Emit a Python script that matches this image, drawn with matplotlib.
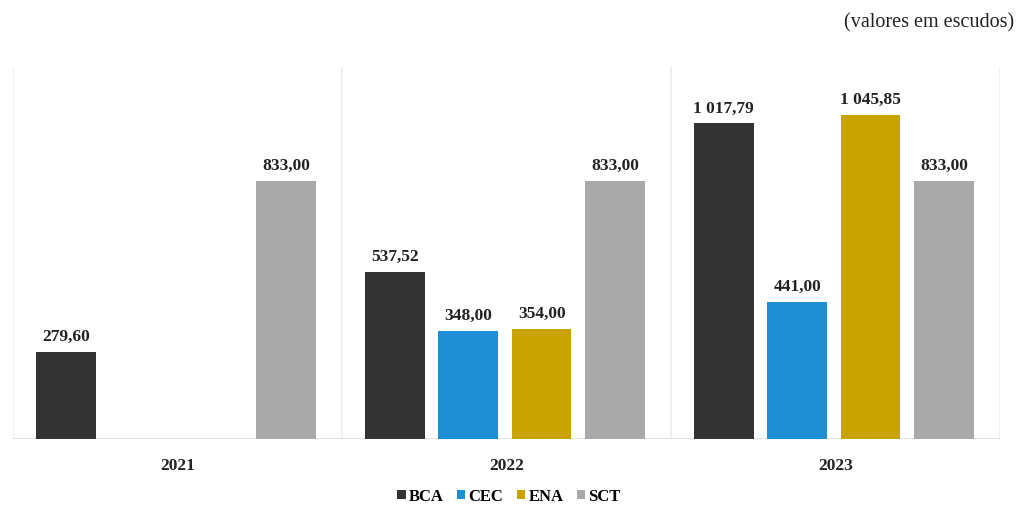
import numpy as np
import matplotlib.pyplot as plt

years = ["2021", "2022", "2023"]
series = ["BCA", "CEC", "ENA", "SCT"]
bca = [279.60, 537.52, 1017.79]
cec = [np.nan, 348.00, 441.00]
ena = [np.nan, 354.00, 1045.85]
sct = [833.00, 833.00, 833.00]
colors = ["#333333", "#1e8fd5", "#c9a302", "#a9a9a9"]


def fmt(v):
    # portuguese style: space for thousands, comma for decimals
    s = f"{v:,.2f}"
    return s.replace(",", " ").replace(".", ",")


def main():
    plt.rcParams["font.family"] = ["Liberation Serif", "DejaVu Serif"]

    dpi = 100
    fig = plt.figure(figsize=(1018 / dpi, 506 / dpi), dpi=dpi)
    ax = fig.add_axes([0.0128, 0.1304, 0.9696, 0.7352])

    x = np.arange(len(years))
    step = 0.223
    width = 0.181
    for i, (name, vals) in enumerate(zip(series, [bca, cec, ena, sct])):
        pos = x - 0.005 + (i - 1.5) * step
        ax.bar(pos, vals, width, color=colors[i], label=name, zorder=3)
        for px, v in zip(pos, vals):
            if np.isnan(v):
                continue
            ax.text(px, v + 26, fmt(v), ha="center", va="bottom",
                    fontsize=12.5, fontweight="bold", color="#222222")

    ax.set_xlim(-0.5, 2.5)
    ax.set_ylim(0, 1200)

    # light separators between the year groups
    for b in [-0.5, 0.5, 1.5, 2.5]:
        ax.axvline(b, color="#ececec", lw=1.2, zorder=1)
    ax.axhline(0, color="#e0e0e0", lw=1.2, zorder=2)

    for s in ax.spines.values():
        s.set_visible(False)
    ax.set_yticks([])
    ax.set_xticks(x)
    ax.set_xticklabels(years, fontsize=12.5, fontweight="bold", color="#222222")
    ax.tick_params(axis="x", length=0, pad=13)

    fig.text(0.996, 0.955, "(valores em escudos)", ha="right", va="center",
             fontsize=14.5, color="#222222")

    fig.legend(loc="center", bbox_to_anchor=(0.5, 0.017), ncol=4, frameon=False,
               handlelength=0.5, handleheight=0.5, handletextpad=0.2,
               columnspacing=0.8, prop={"weight": "bold", "size": 12})

    fig.savefig("out.png", dpi=dpi)
    plt.close()


if __name__ == "__main__":
    main()
